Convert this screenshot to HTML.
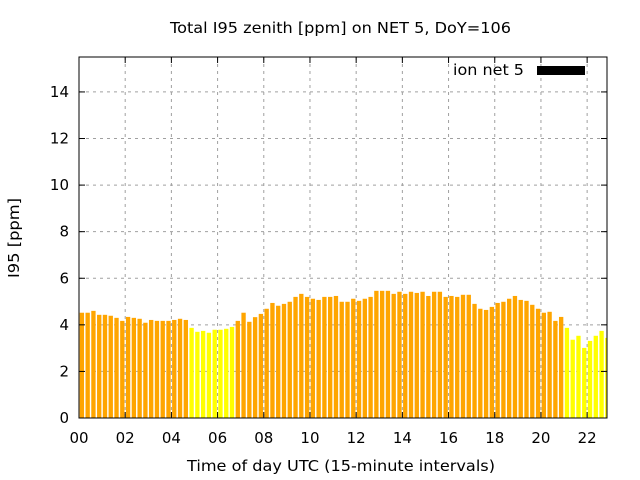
<!DOCTYPE html>
<html><head><meta charset="utf-8"><style>
body{margin:0;background:#fff;}
svg{display:block;font-family:"DejaVu Sans","Liberation Sans",sans-serif;}
</style></head><body>
<svg id="chart" width="640" height="480">
<text x="170" y="33" font-size="15" textLength="341" lengthAdjust="spacingAndGlyphs">Total I95 zenith [ppm] on NET 5, DoY=106</text>
<text x="187" y="471" font-size="15" textLength="308" lengthAdjust="spacingAndGlyphs">Time of day UTC (15-minute intervals)</text>
<text transform="translate(19,278) rotate(-90)" font-size="15" textLength="80" lengthAdjust="spacingAndGlyphs">I95 [ppm]</text>
<g id="grid"></g><g id="bars"></g><g id="axes"></g>
<g>
<text x="453" y="75" font-size="15" textLength="71" lengthAdjust="spacingAndGlyphs">ion net 5</text>
<rect x="537" y="66" width="48" height="9" fill="#000"/>
</g>
</svg>
<script>
const values=[4.52,4.52,4.6,4.43,4.43,4.39,4.3,4.17,4.34,4.3,4.26,4.09,4.21,4.17,4.17,4.17,4.21,4.26,4.21,3.87,3.7,3.74,3.66,3.79,3.79,3.83,3.91,4.17,4.52,4.13,4.33,4.47,4.69,4.94,4.82,4.9,4.99,5.2,5.33,5.2,5.12,5.07,5.2,5.2,5.24,4.99,4.99,5.12,5.03,5.12,5.2,5.46,5.46,5.46,5.33,5.42,5.33,5.42,5.37,5.42,5.24,5.42,5.42,5.2,5.24,5.2,5.29,5.29,4.9,4.69,4.64,4.77,4.94,4.99,5.12,5.24,5.07,5.03,4.86,4.69,4.52,4.56,4.17,4.34,3.87,3.36,3.53,3.01,3.31,3.53,3.74,3.44];
const yTicks=[0,2,4,6,8,10,12,14];
const xTicks=["00","02","04","06","08","10","12","14","16","18","20","22"];
const threshold=4;
const L=79,R=607,T=57,B=418;
const xMax=22.86,yMax=15.5;
const X=h=>L+h/xMax*(R-L);
const Y=v=>B-v/yMax*(B-T);
const NS="http://www.w3.org/2000/svg";
function mk(tag,attrs,parent){const e=document.createElementNS(NS,tag);for(const k in attrs)e.setAttribute(k,attrs[k]);parent.appendChild(e);return e;}
const grid=document.getElementById('grid'),bars=document.getElementById('bars'),axes=document.getElementById('axes');
yTicks.forEach(v=>{
 const y=Y(v);
 if(v>0){const g=mk('line',{x1:L,x2:R,y1:y,y2:y,stroke:'#a0a0a0','stroke-dasharray':'3,4'},grid);
 
 }
 mk('line',{x1:L,x2:L+6,y1:y,y2:y,stroke:'#000'},axes);
 mk('line',{x1:R,x2:R-6,y1:y,y2:y,stroke:'#000'},axes);
 const t=mk('text',{x:L-10,y:y+5,'font-size':15,'text-anchor':'end'},axes);t.textContent=v;
 
 
});
xTicks.forEach((lab,i)=>{
 const x=X(i*2);
 if(i>0){const g=mk('line',{x1:x,x2:x,y1:T,y2:B,stroke:'#a0a0a0','stroke-dasharray':'3,4'},grid);
 
 }
 mk('line',{x1:x,x2:x,y1:B,y2:B-6,stroke:'#000'},axes);
 mk('line',{x1:x,x2:x,y1:T,y2:T+6,stroke:'#000'},axes);
 const t=mk('text',{x:x,y:B+25,'font-size':15,'text-anchor':'middle'},axes);t.textContent=lab;
 
 
});
const step=0.25,bw=0.75*step;
values.forEach((v,i)=>{
 const c=(i+0.5)*step;
 let x1=X(c-bw/2),x2=Math.min(X(c+bw/2),R);
 const r=mk('rect',{x:x1,y:Y(v),width:Math.max(0,x2-x1),height:B-Y(v),fill:v<threshold?'#ffff00':'#ffa500'},bars);
 
 
});
const f=mk('rect',{x:L,y:T,width:R-L,height:B-T,fill:'none',stroke:'#000'},axes);


</script>
</body></html>
